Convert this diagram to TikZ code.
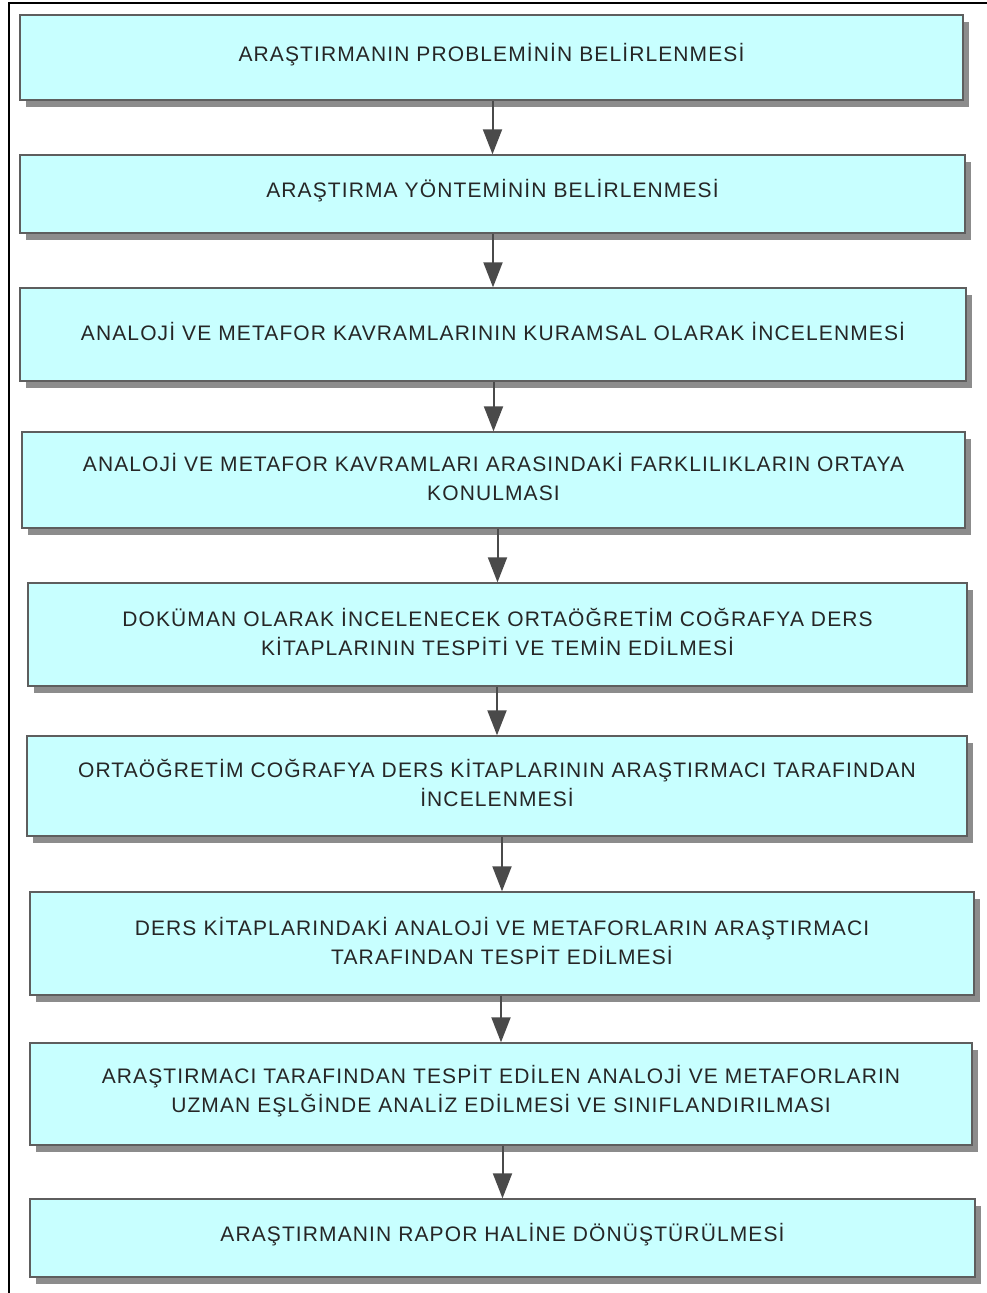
\documentclass[tikz,border=0pt]{standalone}
\usepackage{fontspec}
\setmainfont[LetterSpace=5.3]{Liberation Sans}
\usetikzlibrary{shadows,arrows.meta}
\definecolor{boxfill}{HTML}{C8FFFF}
\definecolor{boxline}{HTML}{5E5E5E}
\definecolor{shadowgray}{HTML}{8C8C8C}
\definecolor{textgray}{HTML}{262626}
\definecolor{arrowgray}{HTML}{4A4A4A}
\tikzset{
  stepbox/.style={draw=boxline, line width=1.4pt, fill=boxfill,
    drop shadow={shadow xshift=6pt, shadow yshift=-7pt, fill=shadowgray, opacity=1},
    align=center, text=textgray, inner sep=0pt,
    font=\fontsize{21}{29}\selectfont},
  flow/.style={draw=arrowgray, line width=2pt,
    -{Triangle[width=19pt,length=25pt]}, color=arrowgray}
}
% place a box given left, top, right, bottom (in pt, y downward);
% the trailing space lifts the text slightly above the box centre
\newcommand\boxat[6]{%
  \node[stepbox, minimum width={#4-#2}, minimum height={#5-#3}, text width={#4-#2-30pt}]
    (#1) at ({(#2+#4)/2}, {(#3+#5)/2}) {#6\par\vspace{6pt}};}
\begin{document}
\begin{tikzpicture}[x=1pt,y=-1pt]
\useasboundingbox (0,0) rectangle (987,1293);
\clip (0,0) rectangle (987,1293);
\fill[white] (0,0) rectangle (987,1293);
% outer frame
\draw[line width=2.5pt] (9,1300) -- (9,3) -- (1000,3);

\boxat{s1}{20}{15}{963}{100}{ARAŞTIRMANIN PROBLEMİNİN BELİRLENMESİ}
\boxat{s2}{20}{155}{965}{233}{ARAŞTIRMA YÖNTEMİNİN BELİRLENMESİ}
\boxat{s3}{20}{288}{966}{381}{ANALOJİ VE METAFOR KAVRAMLARININ KURAMSAL OLARAK İNCELENMESİ}
\boxat{s4}{22}{432}{965}{528}{ANALOJİ VE METAFOR KAVRAMLARI ARASINDAKİ FARKLILIKLARIN ORTAYA\\KONULMASI}
\boxat{s5}{28}{583}{967}{686}{DOKÜMAN OLARAK İNCELENECEK ORTAÖĞRETİM COĞRAFYA DERS\\KİTAPLARININ TESPİTİ VE TEMİN EDİLMESİ}
\boxat{s6}{27}{736}{967}{836}{ORTAÖĞRETİM COĞRAFYA DERS KİTAPLARININ ARAŞTIRMACI TARAFINDAN\\İNCELENMESİ}
\boxat{s7}{30}{892}{974}{995}{DERS KİTAPLARINDAKİ ANALOJİ VE METAFORLARIN ARAŞTIRMACI\\TARAFINDAN TESPİT EDİLMESİ}
\boxat{s8}{30}{1043}{972}{1145}{ARAŞTIRMACI TARAFINDAN TESPİT EDİLEN ANALOJİ VE METAFORLARIN\\UZMAN EŞLĞİNDE ANALİZ EDİLMESİ VE SINIFLANDIRILMASI}
\boxat{s9}{30}{1199}{975}{1277}{ARAŞTIRMANIN RAPOR HALİNE DÖNÜŞTÜRÜLMESİ}

\foreach \a/\b in {s1/s2,s2/s3,s3/s4,s4/s5,s5/s6,s6/s7,s7/s8,s8/s9}
  \draw[flow] (\a.south -| \b.north) -- (\b.north);
\end{tikzpicture}
\end{document}
